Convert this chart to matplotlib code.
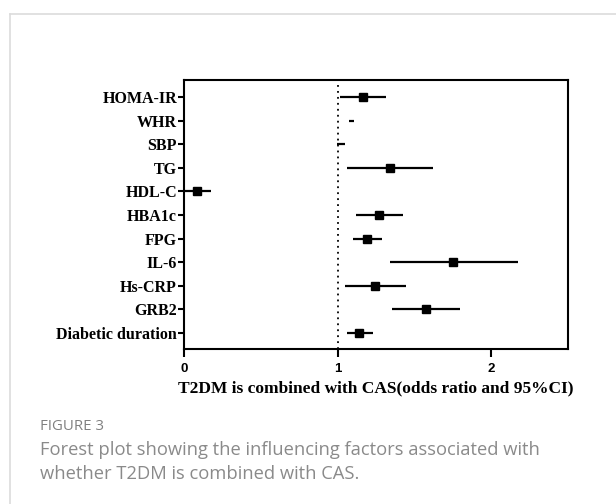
import matplotlib
matplotlib.use("Agg")
import matplotlib.pyplot as plt
from matplotlib.lines import Line2D

labels = ["HOMA-IR", "WHR", "SBP", "TG", "HDL-C", "HBA1c", "FPG", "IL-6",
          "Hs-CRP", "GRB2", "Diabetic duration"]
odds = [1.166, 1.09, 1.02, 1.338, 0.082, 1.270, 1.192, 1.754, 1.246, 1.577, 1.142]
ci_low = [1.016, 1.076, 0.995, 1.060, 0.007, 1.118, 1.099, 1.338, 1.049, 1.355, 1.059]
ci_high = [1.316, 1.107, 1.049, 1.623, 0.174, 1.428, 1.287, 2.172, 1.446, 1.798, 1.228]
show_marker = [True, False, False, True, True, True, True, True, True, True, True]
xticks = [0, 1, 2]

fig = plt.figure(figsize=(6.16, 5.04), dpi=100)
fig.patch.set_facecolor("white")

# card frame
fig.add_artist(Line2D([10/616, 10/616], [0, 1 - 14/504], transform=fig.transFigure,
                      color="#dcdcdc", lw=1.2))
fig.add_artist(Line2D([10/616, 1], [1 - 14/504, 1 - 14/504], transform=fig.transFigure,
                      color="#dcdcdc", lw=1.2))

ax = fig.add_axes([184/616, 1 - 349/504, (568 - 184)/616, (349 - 80)/504])
ys = list(range(len(labels)))

for y, o, lo, hi, sm in zip(ys, odds, ci_low, ci_high, show_marker):
    ax.plot([lo, hi], [y, y], color="black", lw=1.6, solid_capstyle="butt", zorder=3)
    if sm:
        ax.plot([o], [y], marker="s", color="black", markersize=5.2, zorder=4)

ax.axvline(1, color="black", lw=1.3, linestyle=(0, (1, 2.3)), zorder=2)

ax.set_xlim(0, 2.5)
ax.set_ylim(10.68, -0.72)
ax.set_yticks(ys)
ax.set_yticklabels(labels, fontfamily="Liberation Serif", fontweight="bold", fontsize=11.5)
ax.set_xticks(xticks)
ax.set_xticklabels([str(t) for t in xticks], fontfamily="Liberation Sans",
                   fontweight="bold", fontsize=9.5)
for s in ax.spines.values():
    s.set_linewidth(1.5)
ax.tick_params(axis="y", length=4, width=1.5, pad=1)
ax.tick_params(axis="x", length=6, width=1.5, pad=4)
ax.set_xlabel("T2DM is combined with CAS(odds ratio and 95%CI)",
              fontfamily="Liberation Serif", fontweight="bold", fontsize=12.5, labelpad=4)

fig.text(40/616, 1 - 427/504, "FIGURE 3", fontfamily="Open Sans", fontsize=10.8,
         color="#808080", va="center", ha="left")
fig.text(40/616, 1 - 450/504, "Forest plot showing the influencing factors associated with",
         fontfamily="Open Sans", fontsize=13.2, color="#8a8a8a",
         va="center", ha="left")
fig.text(40/616, 1 - 474/504, "whether T2DM is combined with CAS.",
         fontfamily="Open Sans", fontsize=13.2, color="#8a8a8a",
         va="center", ha="left")

fig.savefig("out.png", dpi=100)
